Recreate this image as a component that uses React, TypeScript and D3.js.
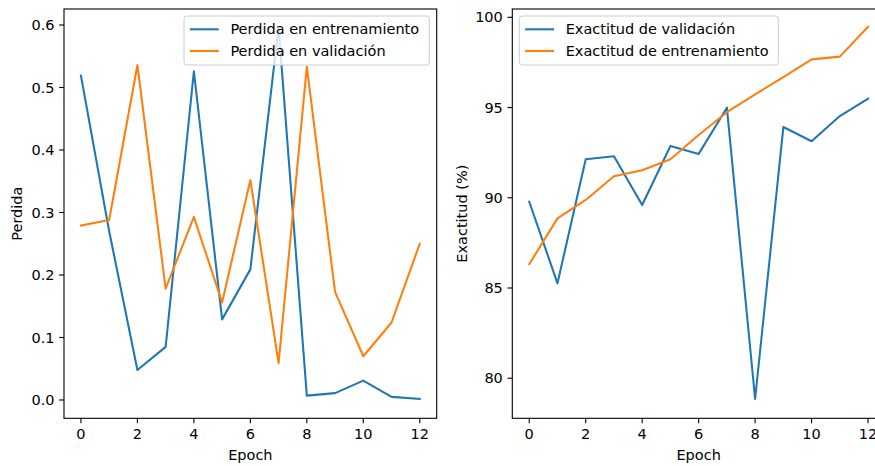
import React from "react";
import * as d3 from "d3";

const epochs = [0, 1, 2, 3, 4, 5, 6, 7, 8, 9, 10, 11, 12];
const trainLoss = [0.519, 0.27, 0.048, 0.085, 0.526, 0.129, 0.209, 0.597, 0.007, 0.011, 0.031, 0.005, 0.0016];
const valLoss = [0.279, 0.288, 0.536, 0.178, 0.293, 0.156, 0.352, 0.059, 0.533, 0.173, 0.07, 0.124, 0.25];
const valAcc = [89.78, 85.26, 92.13, 92.3, 89.6, 92.87, 92.43, 94.99, 78.85, 93.92, 93.13, 94.53, 95.49];
const trainAcc = [86.32, 88.86, 89.88, 91.19, 91.52, 92.13, 93.48, 94.74, 95.73, 96.69, 97.67, 97.82, 99.48];
const xTicks = [0, 2, 4, 6, 8, 10, 12];
const lossTicks = [0.0, 0.1, 0.2, 0.3, 0.4, 0.5, 0.6];
const accTicks = [80, 85, 90, 95, 100];

const BLUE = "#1f77b4";
const ORANGE = "#ff7f0e";
const FONT = "DejaVu Sans, sans-serif";
const FS = 14.5;
const TICK = 4.86;

type Series = { values: number[]; color: string; label: string };

function Panel(props: {
  left: number;
  top: number;
  width: number;
  height: number;
  series: Series[];
  yDomain: [number, number];
  yTicks: number[];
  yFormat: (v: number) => string;
  yLabel: string;
  yLabelX: number;
  legendX: number;
  legendW: number;
}) {
  const { left, top, width, height, series, yDomain, yTicks, yFormat, yLabel, yLabelX, legendX, legendW } = props;
  const x = d3.scaleLinear().domain([-0.6, 12.6]).range([left, left + width]);
  const y = d3.scaleLinear().domain(yDomain).range([top + height, top]);
  const line = d3
    .line<number>()
    .x((_, i) => x(epochs[i]))
    .y((d) => y(d));
  const bottom = top + height;
  const legendY = 16;
  const clipId = `clip-${Math.round(left)}`;
  return (
    <g>
      <defs>
        <clipPath id={clipId}>
          <rect x={left} y={top} width={width} height={height} />
        </clipPath>
      </defs>
      <g clipPath={`url(#${clipId})`}>
        {series.map((s) => (
          <path
            key={s.label}
            d={line(s.values) || ""}
            fill="none"
            stroke={s.color}
            strokeWidth={2.08}
            strokeLinejoin="round"
            strokeLinecap="square"
          />
        ))}
      </g>
      <rect x={left} y={top} width={width} height={height} fill="none" stroke="#000" strokeWidth={1.1} />
      {xTicks.map((t) => (
        <g key={t}>
          <line x1={x(t)} x2={x(t)} y1={bottom} y2={bottom + TICK} stroke="#000" strokeWidth={1.1} />
          <text x={x(t)} y={bottom + TICK + 4.6} dy="0.76em" textAnchor="middle" fontFamily={FONT} fontSize={FS} fill="#000">
            {t}
          </text>
        </g>
      ))}
      {yTicks.map((t) => (
        <g key={t}>
          <line x1={left - TICK} x2={left} y1={y(t)} y2={y(t)} stroke="#000" strokeWidth={1.1} />
          <text x={left - TICK - 4.6} y={y(t)} dy="0.35em" textAnchor="end" fontFamily={FONT} fontSize={FS} fill="#000">
            {yFormat(t)}
          </text>
        </g>
      ))}
      <text x={left + width / 2} y={459.5} textAnchor="middle" fontFamily={FONT} fontSize={FS} fill="#000">
        Epoch
      </text>
      <text
        transform={`translate(${yLabelX},${top + height / 2}) rotate(-90)`}
        textAnchor="middle"
        fontFamily={FONT}
        fontSize={FS}
        fill="#000"
      >
        {yLabel}
      </text>
      <rect x={legendX} y={legendY} width={legendW} height={49} rx={2.9} fill="#fff" fillOpacity={0.8} stroke="#cccccc" strokeWidth={1} />
      {series.map((s, i) => (
        <g key={s.label}>
          <line
            x1={legendX + 5.8}
            x2={legendX + 5.8 + 29}
            y1={legendY + 13.3 + i * 21.7}
            y2={legendY + 13.3 + i * 21.7}
            stroke={s.color}
            strokeWidth={2.08}
          />
          <text x={legendX + 5.8 + 29 + 11.6} y={legendY + 13.3 + i * 21.7} dy="0.35em" fontFamily={FONT} fontSize={FS} fill="#000">
            {s.label}
          </text>
        </g>
      ))}
    </g>
  );
}

export default function App() {
  return (
    <svg
      width={875}
      height={466}
      style={{ position: "absolute", left: 0, top: 0, background: "#fff" }}
      xmlns="http://www.w3.org/2000/svg"
    >
      <rect width={875} height={466} fill="#fff" />
      <Panel
        left={64}
        top={9}
        width={372.7}
        height={409.3}
        series={[
          { values: trainLoss, color: BLUE, label: "Perdida en entrenamiento" },
          { values: valLoss, color: ORANGE, label: "Perdida en validación" },
        ]}
        yDomain={[-0.0293, 0.6256]}
        yTicks={lossTicks}
        yFormat={(v) => v.toFixed(1)}
        yLabel="Perdida"
        yLabelX={22}
        legendX={184}
        legendW={245.3}
      />
      <Panel
        left={512.3}
        top={9}
        width={372.7}
        height={409.3}
        series={[
          { values: valAcc, color: BLUE, label: "Exactitud de validación" },
          { values: trainAcc, color: ORANGE, label: "Exactitud de entrenamiento" },
        ]}
        yDomain={[77.78, 100.46]}
        yTicks={accTicks}
        yFormat={(v) => String(v)}
        yLabel="Exactitud (%)"
        yLabelX={467}
        legendX={519.3}
        legendW={259}
      />
    </svg>
  );
}
